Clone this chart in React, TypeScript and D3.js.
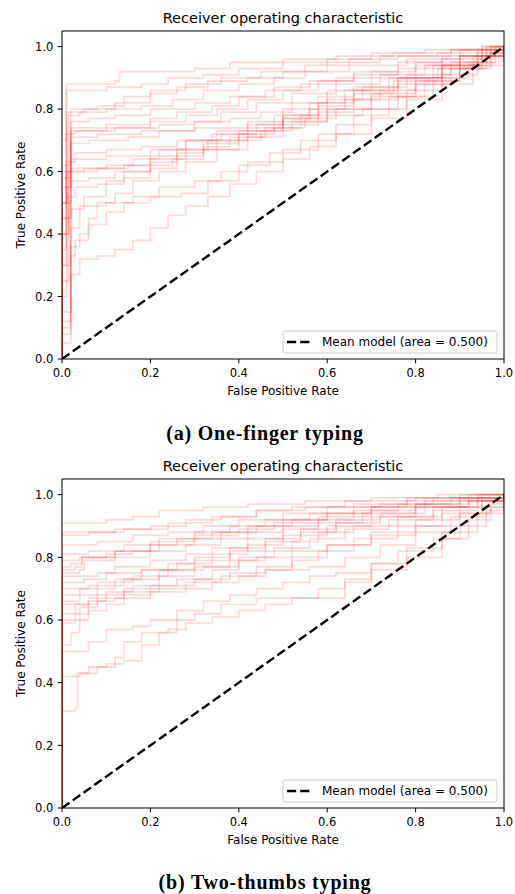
import * as d3 from "d3";

// ROC curves, [fpr, tpr] corners (tpr jumps at that fpr)
const oneFinger: [number, number][][] = [
  [[0,0],[0,0.6],[0.01,0.88],[0.12,0.89],[0.13,0.92],[0.3,0.93],[0.38,0.95],[0.5,0.96],[0.62,0.97],[0.75,0.98],[0.88,0.99],[0.96,1],[1,1]],
  [[0,0],[0,0.5],[0.01,0.79],[0.05,0.8],[0.12,0.82],[0.2,0.85],[0.26,0.87],[0.33,0.89],[0.42,0.9],[0.5,0.92],[0.6,0.95],[0.72,0.97],[0.85,0.98],[0.95,1],[1,1]],
  [[0,0],[0,0.4],[0.015,0.78],[0.04,0.79],[0.1,0.8],[0.18,0.81],[0.25,0.83],[0.32,0.86],[0.4,0.88],[0.48,0.9],[0.55,0.92],[0.65,0.94],[0.78,0.96],[0.9,0.99],[1,1]],
  [[0,0],[0,0.45],[0.01,0.72],[0.03,0.73],[0.12,0.74],[0.22,0.75],[0.3,0.76],[0.38,0.77],[0.45,0.79],[0.52,0.82],[0.6,0.86],[0.7,0.9],[0.8,0.94],[0.9,0.97],[0.98,1],[1,1]],
  [[0,0],[0,0.5],[0.02,0.73],[0.1,0.74],[0.2,0.76],[0.28,0.78],[0.35,0.8],[0.42,0.83],[0.5,0.86],[0.58,0.89],[0.66,0.92],[0.76,0.95],[0.86,0.97],[0.94,0.99],[1,1]],
  [[0,0],[0,0.35],[0.01,0.6],[0.02,0.71],[0.08,0.72],[0.18,0.73],[0.3,0.74],[0.42,0.75],[0.5,0.76],[0.6,0.78],[0.68,0.8],[0.76,0.84],[0.84,0.9],[0.92,0.95],[0.98,0.99],[1,1]],
  [[0,0],[0,0.55],[0.02,0.69],[0.06,0.7],[0.15,0.71],[0.22,0.73],[0.3,0.76],[0.36,0.79],[0.44,0.82],[0.52,0.85],[0.62,0.88],[0.72,0.91],[0.82,0.94],[0.9,0.97],[0.97,1],[1,1]],
  [[0,0],[0,0.3],[0.01,0.55],[0.02,0.61],[0.1,0.62],[0.16,0.64],[0.22,0.67],[0.28,0.7],[0.35,0.73],[0.42,0.76],[0.5,0.8],[0.58,0.84],[0.66,0.87],[0.76,0.9],[0.86,0.94],[0.95,0.98],[1,1]],
  [[0,0],[0,0.4],[0.015,0.6],[0.08,0.61],[0.14,0.62],[0.2,0.65],[0.26,0.66],[0.32,0.69],[0.4,0.72],[0.48,0.74],[0.55,0.77],[0.62,0.8],[0.7,0.84],[0.8,0.88],[0.88,0.93],[0.96,0.97],[1,1]],
  [[0,0],[0,0.2],[0.01,0.45],[0.02,0.57],[0.06,0.58],[0.12,0.6],[0.2,0.63],[0.26,0.67],[0.33,0.7],[0.4,0.73],[0.48,0.78],[0.56,0.82],[0.64,0.86],[0.74,0.9],[0.84,0.94],[0.94,0.98],[1,1]],
  [[0,0],[0,0.15],[0.02,0.48],[0.05,0.52],[0.1,0.57],[0.14,0.6],[0.2,0.64],[0.28,0.67],[0.35,0.7],[0.42,0.73],[0.5,0.77],[0.58,0.81],[0.66,0.85],[0.75,0.89],[0.85,0.93],[0.93,0.97],[1,1]],
  [[0,0],[0,0.1],[0.02,0.42],[0.04,0.49],[0.1,0.5],[0.16,0.52],[0.22,0.55],[0.3,0.57],[0.36,0.6],[0.42,0.63],[0.5,0.67],[0.58,0.72],[0.66,0.78],[0.74,0.84],[0.82,0.89],[0.9,0.94],[0.97,0.98],[1,1]],
  [[0,0],[0,0.08],[0.02,0.36],[0.04,0.4],[0.06,0.43],[0.1,0.47],[0.14,0.5],[0.2,0.52],[0.27,0.53],[0.33,0.57],[0.4,0.62],[0.47,0.66],[0.54,0.7],[0.62,0.75],[0.7,0.8],[0.78,0.86],[0.86,0.91],[0.94,0.96],[1,1]],
  [[0,0],[0,0.05],[0.02,0.27],[0.04,0.32],[0.08,0.33],[0.12,0.35],[0.16,0.38],[0.2,0.42],[0.24,0.46],[0.28,0.49],[0.33,0.52],[0.38,0.56],[0.44,0.6],[0.5,0.64],[0.56,0.68],[0.62,0.72],[0.7,0.77],[0.78,0.83],[0.86,0.88],[0.93,0.94],[1,1]],
  [[0,0],[0,0.12],[0.02,0.33],[0.03,0.38],[0.06,0.45],[0.08,0.5],[0.12,0.53],[0.16,0.57],[0.22,0.6],[0.28,0.63],[0.35,0.67],[0.42,0.71],[0.5,0.75],[0.58,0.79],[0.66,0.83],[0.76,0.88],[0.86,0.93],[0.95,0.97],[1,1]],
  [[0,0],[0,0.5],[0.01,0.6],[0.05,0.61],[0.15,0.62],[0.25,0.64],[0.32,0.67],[0.4,0.7],[0.45,0.73],[0.52,0.76],[0.6,0.8],[0.7,0.85],[0.8,0.9],[0.9,0.95],[1,1]],
  [[0,0],[0,0.25],[0.015,0.52],[0.03,0.55],[0.08,0.56],[0.14,0.58],[0.2,0.61],[0.26,0.65],[0.32,0.68],[0.38,0.71],[0.46,0.74],[0.54,0.78],[0.6,0.83],[0.68,0.87],[0.78,0.91],[0.88,0.95],[0.96,0.99],[1,1]],
  [[0,0],[0,0.62],[0.02,0.8],[0.08,0.81],[0.14,0.84],[0.2,0.86],[0.28,0.88],[0.36,0.9],[0.45,0.92],[0.55,0.94],[0.65,0.96],[0.76,0.97],[0.88,0.99],[1,1]],
  [[0,0],[0,0.58],[0.02,0.76],[0.06,0.77],[0.12,0.78],[0.2,0.8],[0.3,0.82],[0.38,0.84],[0.46,0.86],[0.54,0.88],[0.62,0.9],[0.7,0.92],[0.8,0.95],[0.9,0.97],[0.97,1],[1,1]],
  [[0,0],[0,0.4],[0.01,0.63],[0.03,0.66],[0.1,0.67],[0.18,0.68],[0.26,0.7],[0.34,0.72],[0.42,0.74],[0.5,0.77],[0.56,0.8],[0.64,0.83],[0.72,0.86],[0.8,0.89],[0.9,0.93],[0.97,0.97],[1,1]],
  [[0,0],[0,0.3],[0.02,0.64],[0.1,0.65],[0.2,0.67],[0.28,0.7],[0.36,0.72],[0.44,0.75],[0.5,0.78],[0.58,0.82],[0.66,0.86],[0.76,0.9],[0.86,0.94],[0.94,0.97],[1,1]],
  [[0,0],[0,0.7],[0.01,0.86],[0.1,0.87],[0.18,0.88],[0.24,0.9],[0.32,0.91],[0.4,0.93],[0.5,0.95],[0.6,0.96],[0.7,0.98],[0.82,0.99],[0.95,1],[1,1]],
  [[0,0],[0,0.45],[0.02,0.74],[0.1,0.75],[0.2,0.77],[0.26,0.79],[0.34,0.81],[0.4,0.84],[0.48,0.87],[0.56,0.89],[0.66,0.91],[0.76,0.93],[0.86,0.96],[0.95,0.99],[1,1]],
];

const twoThumbs: [number, number][][] = [
  [[0,0],[0,0.91],[0.1,0.92],[0.16,0.93],[0.22,0.95],[0.32,0.96],[0.42,0.97],[0.55,0.98],[0.7,0.99],[0.85,1],[1,1]],
  [[0,0],[0,0.88],[0.12,0.89],[0.2,0.9],[0.28,0.92],[0.36,0.93],[0.44,0.95],[0.55,0.96],[0.66,0.97],[0.78,0.99],[0.9,1],[1,1]],
  [[0,0],[0,0.87],[0.06,0.88],[0.14,0.89],[0.24,0.91],[0.34,0.93],[0.44,0.95],[0.52,0.96],[0.64,0.98],[0.8,0.99],[0.92,1],[1,1]],
  [[0,0],[0,0.84],[0.08,0.85],[0.16,0.87],[0.24,0.88],[0.32,0.9],[0.4,0.92],[0.5,0.94],[0.6,0.96],[0.72,0.97],[0.84,0.99],[0.95,1],[1,1]],
  [[0,0],[0,0.76],[0.03,0.77],[0.045,0.8],[0.1,0.81],[0.16,0.82],[0.22,0.84],[0.3,0.86],[0.36,0.88],[0.44,0.9],[0.52,0.92],[0.6,0.94],[0.7,0.96],[0.8,0.97],[0.9,0.99],[1,1]],
  [[0,0],[0,0.75],[0.04,0.76],[0.05,0.79],[0.12,0.8],[0.2,0.82],[0.28,0.84],[0.36,0.86],[0.42,0.88],[0.5,0.9],[0.58,0.92],[0.66,0.95],[0.76,0.97],[0.88,0.99],[1,1]],
  [[0,0],[0,0.74],[0.08,0.75],[0.12,0.77],[0.2,0.79],[0.28,0.81],[0.34,0.83],[0.42,0.86],[0.5,0.89],[0.58,0.91],[0.68,0.94],[0.8,0.96],[0.9,0.98],[1,1]],
  [[0,0],[0,0.72],[0.05,0.73],[0.1,0.75],[0.18,0.76],[0.26,0.78],[0.34,0.81],[0.42,0.84],[0.5,0.87],[0.6,0.9],[0.7,0.93],[0.8,0.96],[0.92,0.98],[1,1]],
  [[0,0],[0,0.7],[0.06,0.71],[0.14,0.73],[0.22,0.76],[0.3,0.79],[0.38,0.82],[0.46,0.85],[0.54,0.88],[0.62,0.91],[0.72,0.93],[0.84,0.96],[0.94,0.99],[1,1]],
  [[0,0],[0,0.68],[0.04,0.7],[0.08,0.72],[0.16,0.74],[0.24,0.76],[0.32,0.77],[0.4,0.8],[0.48,0.83],[0.56,0.86],[0.64,0.89],[0.74,0.92],[0.84,0.95],[0.94,0.98],[1,1]],
  [[0,0],[0,0.59],[0.03,0.62],[0.06,0.66],[0.1,0.68],[0.14,0.7],[0.2,0.71],[0.26,0.73],[0.34,0.76],[0.4,0.79],[0.46,0.82],[0.52,0.85],[0.58,0.88],[0.66,0.9],[0.76,0.93],[0.86,0.96],[0.95,0.99],[1,1]],
  [[0,0],[0,0.6],[0.04,0.64],[0.08,0.66],[0.12,0.67],[0.2,0.69],[0.28,0.7],[0.34,0.72],[0.4,0.74],[0.46,0.76],[0.52,0.79],[0.58,0.82],[0.66,0.86],[0.76,0.9],[0.86,0.94],[0.95,0.98],[1,1]],
  [[0,0],[0,0.52],[0.02,0.56],[0.04,0.6],[0.06,0.63],[0.1,0.65],[0.14,0.68],[0.2,0.7],[0.28,0.72],[0.36,0.74],[0.44,0.77],[0.52,0.8],[0.6,0.84],[0.7,0.88],[0.8,0.92],[0.9,0.96],[1,1]],
  [[0,0],[0,0.42],[0.04,0.43],[0.08,0.45],[0.12,0.48],[0.14,0.53],[0.18,0.56],[0.24,0.57],[0.28,0.59],[0.34,0.61],[0.4,0.63],[0.46,0.65],[0.52,0.67],[0.58,0.7],[0.64,0.73],[0.7,0.78],[0.76,0.82],[0.84,0.86],[0.9,0.9],[0.96,0.95],[1,1]],
  [[0,0],[0,0.31],[0.03,0.32],[0.035,0.43],[0.06,0.45],[0.1,0.46],[0.14,0.47],[0.18,0.52],[0.22,0.56],[0.26,0.6],[0.3,0.62],[0.36,0.65],[0.44,0.67],[0.6,0.67],[0.64,0.72],[0.7,0.76],[0.78,0.8],[0.86,0.86],[0.92,0.92],[0.97,0.96],[1,1]],
  [[0,0],[0,0.5],[0.06,0.53],[0.1,0.57],[0.16,0.58],[0.2,0.6],[0.26,0.63],[0.32,0.66],[0.38,0.68],[0.44,0.7],[0.5,0.72],[0.56,0.74],[0.62,0.75],[0.7,0.78],[0.78,0.83],[0.86,0.88],[0.94,0.94],[1,1]],
  [[0,0],[0,0.66],[0.04,0.68],[0.1,0.69],[0.16,0.71],[0.22,0.74],[0.3,0.77],[0.38,0.79],[0.44,0.8],[0.52,0.82],[0.6,0.84],[0.7,0.87],[0.8,0.9],[0.9,0.94],[0.97,0.98],[1,1]],
  [[0,0],[0,0.81],[0.06,0.82],[0.14,0.84],[0.22,0.86],[0.3,0.88],[0.38,0.9],[0.46,0.92],[0.56,0.94],[0.66,0.96],[0.78,0.98],[0.9,0.99],[1,1]],
  [[0,0],[0,0.79],[0.04,0.8],[0.12,0.82],[0.2,0.85],[0.3,0.87],[0.4,0.89],[0.48,0.91],[0.58,0.93],[0.7,0.95],[0.8,0.97],[0.92,0.99],[1,1]],
  [[0,0],[0,0.62],[0.03,0.65],[0.08,0.7],[0.12,0.73],[0.18,0.76],[0.24,0.78],[0.3,0.8],[0.38,0.83],[0.46,0.86],[0.54,0.89],[0.62,0.92],[0.72,0.94],[0.82,0.96],[0.92,0.98],[1,1]],
  [[0,0],[0,0.65],[0.06,0.67],[0.14,0.69],[0.22,0.71],[0.3,0.73],[0.38,0.75],[0.46,0.76],[0.56,0.77],[0.64,0.8],[0.72,0.84],[0.8,0.88],[0.88,0.93],[0.96,0.97],[1,1]],
  [[0,0],[0,0.77],[0.02,0.78],[0.045,0.8],[0.12,0.82],[0.2,0.84],[0.26,0.86],[0.34,0.88],[0.42,0.9],[0.5,0.92],[0.6,0.94],[0.7,0.96],[0.82,0.98],[0.94,1],[1,1]],
];

const meanModel: [number, number][] = [[0, 0], [1, 1]];
const ticks = [0, 0.2, 0.4, 0.6, 0.8, 1.0];
const panels = [
  { curves: oneFinger, caption: "(a) One-finger typing", top: 31, bottom: 359 },
  { curves: twoThumbs, caption: "(b) Two-thumbs typing", top: 479, bottom: 808 },
];

const sans = "DejaVu Sans, sans-serif";
const left = 62;
const right = 504;
const dash = "9.2,4";

function Panel({ curves, caption, top, bottom }: any) {
  const x = d3.scaleLinear().domain([0, 1]).range([left, right]);
  const y = d3.scaleLinear().domain([0, 1.05]).range([bottom, top]);
  const step = d3.line<[number, number]>().x(d => x(d[0])).y(d => y(d[1])).curve(d3.curveStepAfter);
  const diag = d3.line<[number, number]>().x(d => x(d[0])).y(d => y(d[1]));
  const midY = (top + bottom) / 2;
  const legY = bottom - 17;

  return (
    <g>
      <text x={(left + right) / 2} y={top - 7.7} textAnchor="middle" fontFamily={sans} fontSize={14.5} fill="#000">
        Receiver operating characteristic
      </text>
      <defs>
        <clipPath id={`clip${top}`}>
          <rect x={left + 0.5} y={top} width={right - left - 0.5} height={bottom - top} />
        </clipPath>
      </defs>
      <g clipPath={`url(#clip${top})`}>
        {curves.map((c: [number, number][], i: number) => (
          <path key={i} d={step(c) || ""} fill="none" stroke="red" strokeOpacity={0.14} strokeWidth={1.8} />
        ))}
        <path d={diag(meanModel) || ""} fill="none" stroke="#000" strokeWidth={2.4} strokeDasharray={dash} />
      </g>
      <rect x={left} y={top} width={right - left} height={bottom - top} fill="none" stroke="#000" strokeWidth={1} />
      {ticks.map(t => (
        <g key={"x" + t}>
          <line x1={x(t)} x2={x(t)} y1={bottom} y2={bottom + 4.3} stroke="#000" strokeWidth={1} />
          <text x={x(t)} y={bottom + 18} textAnchor="middle" fontFamily={sans} fontSize={11.5} fill="#000">
            {t.toFixed(1)}
          </text>
          <line x1={left - 4.3} x2={left} y1={y(t)} y2={y(t)} stroke="#000" strokeWidth={1} />
          <text x={left - 8.6} y={y(t) + 4.2} textAnchor="end" fontFamily={sans} fontSize={11.5} fill="#000">
            {t.toFixed(1)}
          </text>
        </g>
      ))}
      <text x={(left + right) / 2} y={bottom + 35.5} textAnchor="middle" fontFamily={sans} fontSize={12} fill="#000">
        False Positive Rate
      </text>
      <text transform={`translate(25,${midY}) rotate(-90)`} textAnchor="middle" fontFamily={sans} fontSize={12} fill="#000">
        True Positive Rate
      </text>
      <rect x={283} y={legY - 11} width={214} height={22} rx={2.5} fill="#fff" fillOpacity={0.8} stroke="#ccc" strokeWidth={1} />
      <line x1={287} x2={310} y1={legY} y2={legY} stroke="#000" strokeWidth={2.4} strokeDasharray={dash} />
      <text x={322} y={legY + 4.3} fontFamily={sans} fontSize={12} fill="#000">
        Mean model (area = 0.500)
      </text>
      <text x={265} y={bottom + 81} textAnchor="middle" fontFamily="Liberation Serif, serif" fontWeight="bold" fontSize={20} letterSpacing={0.8} fill="#000">
        {caption}
      </text>
    </g>
  );
}

export default function App() {
  return (
    <svg width={515} height={894} style={{ position: "absolute", left: 0, top: 0, background: "#fff" }}>
      {panels.map(p => (
        <Panel key={p.caption} {...p} />
      ))}
    </svg>
  );
}
